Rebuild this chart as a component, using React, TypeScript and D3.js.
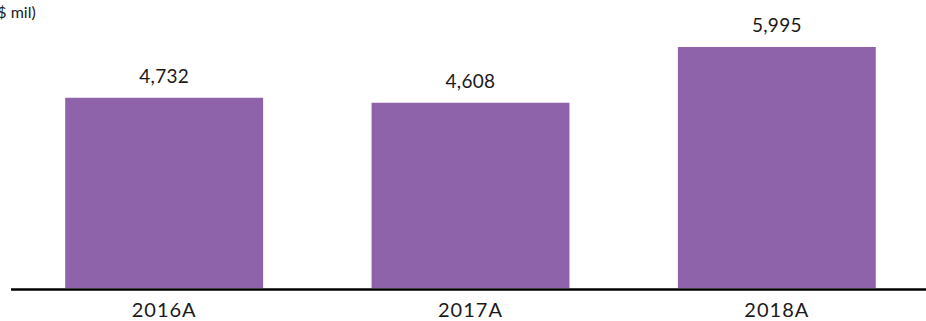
import React from "react";
import * as d3 from "d3";

const categories = ["2016A", "2017A", "2018A"];
const values = [4732, 4608, 5995];
const unitLabel = "($ mil)";

const W = 926;
const H = 321;

export default function App() {
  const x = d3
    .scaleBand<string>()
    .domain(categories)
    .range([11, 930])
    .paddingInner(0.354)
    .paddingOuter(0.177);
  const y = d3.scaleLinear().domain([0, 7000]).range([288, 288 - 7000 * 0.0402]);
  const fmt = d3.format(",");
  const font = "Lato, 'Noto Sans', sans-serif";

  return (
    <svg
      width={W}
      height={H}
      style={{ position: "absolute", left: 0, top: 0, background: "#fff" }}
      fontFamily={font}
    >
      <text x={-7} y={18} fontSize={16} fill="#1a1a1a">
        {unitLabel}
      </text>
      {categories.map((c, i) => (
        <g key={c}>
          <rect
            x={x(c)!}
            y={y(values[i])}
            width={x.bandwidth()}
            height={y(0) - y(values[i])}
            fill="#8F63AA"
          />
          <text
            x={x(c)! + x.bandwidth() / 2}
            y={y(values[i]) - 15}
            textAnchor="middle"
            fontSize={19}
            letterSpacing={0.3}
            fill="#1a1a1a"
          >
            {fmt(values[i])}
          </text>
          <text
            x={x(c)! + x.bandwidth() / 2}
            y={316.5}
            textAnchor="middle"
            fontSize={20}
            letterSpacing={1}
            fill="#1a1a1a"
          >
            {c}
          </text>
        </g>
      ))}
      <line x1={11} x2={W} y1={289.5} y2={289.5} stroke="#000" strokeWidth={2.6} />
    </svg>
  );
}
